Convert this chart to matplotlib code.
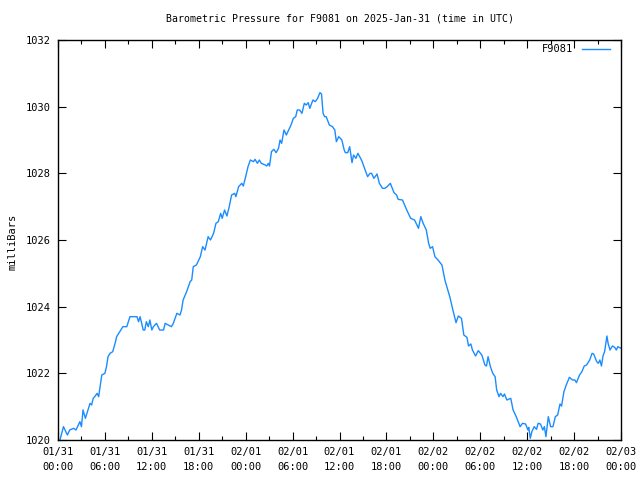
import matplotlib
matplotlib.use("Agg")
import matplotlib.pyplot as plt
from matplotlib.ticker import MultipleLocator

# hours since 2025-01-31 00:00 UTC, pressure in millibars
hours = [
    0.0, 0.25, 0.7, 0.9, 1.2, 1.5, 2.0, 2.3, 2.6, 2.8, 3.0, 3.2, 3.5, 3.9, 4.1, 4.3,
    4.5, 4.7, 5.0, 5.2, 5.5, 5.6, 6.0, 6.2, 6.4, 6.65, 7.0, 7.3, 7.5, 7.9, 8.3, 8.8,
    9.2, 10.1, 10.3, 10.5, 10.7, 10.9, 11.1, 11.3, 11.55, 11.75, 12.0, 12.2, 12.6, 12.8,
    13.0, 13.5, 13.7, 14.1, 14.5, 14.75, 15.2, 15.6, 15.8, 16.0, 16.45, 16.9,
    17.1, 17.3, 17.7, 18.2, 18.5, 18.8, 19.2, 19.5, 19.9, 20.2, 20.5, 20.8, 21.0,
    21.3, 21.6, 21.9, 22.2, 22.6, 22.75, 23.1, 23.5, 23.7, 24.0, 24.3, 24.6, 25.0,
    25.2, 25.5, 25.75, 26.0, 26.5, 26.7, 26.9, 27.05, 27.3, 27.6, 27.9, 28.2, 28.4,
    28.6, 28.9, 29.2, 29.5, 29.8, 30.1, 30.4, 30.6, 30.9, 31.2, 31.5, 31.75, 32.0,
    32.2, 32.6, 32.9, 33.2, 33.5, 33.7, 33.9, 34.1, 34.3, 34.7, 35.1, 35.4, 35.6,
    35.9, 36.3, 36.6, 36.75, 37.05, 37.3, 37.6, 37.8, 38.1, 38.35, 38.7, 38.9, 39.2,
    39.6, 39.9, 40.1, 40.4, 40.8, 41.1, 41.5, 41.8, 42.1, 42.5, 42.97, 43.3, 43.5,
    44.05, 44.6, 45.1, 45.6, 46.1, 46.4, 46.7, 47.1, 47.4, 47.6, 47.9, 48.2, 48.6,
    49.1, 49.5, 50.1, 50.5, 50.9, 51.2, 51.6, 51.9, 52.3, 52.5, 52.8, 53.0, 53.4,
    53.75, 54.2, 54.6, 54.8, 55.0, 55.3, 55.6, 55.9, 56.1, 56.4, 56.6, 56.9, 57.1,
    57.4, 57.9, 58.2, 58.6, 59.1, 59.4, 59.8, 60.1, 60.2, 60.4, 60.6, 60.9, 61.2,
    61.4, 61.7, 62.0, 62.2, 62.4, 62.7, 63.0, 63.3, 63.6, 63.9, 64.2, 64.4, 64.7,
    65.0, 65.4, 65.8, 66.1, 66.3, 66.7, 67.0, 67.3, 67.6, 68.0, 68.3, 68.5, 68.9,
    69.1, 69.3, 69.5, 69.7, 69.9, 70.2, 70.35, 70.6, 70.9, 71.2, 71.4, 71.6, 72.0,
]
pressure = [
    1020.0, 1020.0, 1020.4, 1020.3, 1020.15, 1020.3, 1020.35, 1020.3, 1020.45, 1020.55,
    1020.4, 1020.9, 1020.65, 1020.95, 1021.1, 1021.05, 1021.25, 1021.3, 1021.4, 1021.3,
    1021.8, 1021.95, 1022.0, 1022.2, 1022.5, 1022.6, 1022.65, 1022.9, 1023.1, 1023.25,
    1023.4, 1023.4, 1023.7, 1023.7, 1023.55, 1023.7, 1023.5, 1023.3, 1023.3, 1023.55,
    1023.4, 1023.6, 1023.3, 1023.4, 1023.5, 1023.4, 1023.3, 1023.3, 1023.5, 1023.45,
    1023.4, 1023.5, 1023.8, 1023.75, 1023.9, 1024.2, 1024.45, 1024.75,
    1024.8, 1025.2, 1025.25, 1025.5, 1025.8, 1025.7, 1026.1, 1026.0, 1026.2, 1026.5,
    1026.55, 1026.8, 1026.65, 1026.9, 1026.72, 1027.0, 1027.35, 1027.4, 1027.3,
    1027.6, 1027.7, 1027.62, 1027.9, 1028.2, 1028.4, 1028.35, 1028.42, 1028.3,
    1028.4, 1028.3, 1028.25, 1028.22, 1028.3, 1028.22, 1028.65, 1028.72, 1028.62,
    1028.75, 1029.0, 1028.9, 1029.3, 1029.15, 1029.3, 1029.45, 1029.65, 1029.7,
    1029.9, 1029.9, 1029.8, 1030.1, 1030.05, 1030.12, 1029.95, 1030.2, 1030.15,
    1030.25, 1030.42, 1030.38, 1029.8, 1029.7, 1029.7, 1029.45, 1029.4, 1029.3,
    1028.95, 1029.1, 1029.0, 1028.7, 1028.62, 1028.62, 1028.8, 1028.32, 1028.55,
    1028.45, 1028.6, 1028.45, 1028.35, 1028.15, 1027.9, 1028.0, 1028.0, 1027.85,
    1027.98, 1027.7, 1027.55, 1027.55, 1027.6, 1027.7, 1027.42, 1027.35, 1027.22,
    1027.2, 1026.9, 1026.65, 1026.6, 1026.35, 1026.7, 1026.5, 1026.3, 1025.9,
    1025.75, 1025.8, 1025.5, 1025.4, 1025.25, 1024.78, 1024.3, 1023.9, 1023.52,
    1023.72, 1023.65, 1023.15, 1023.08, 1022.82, 1022.88, 1022.7, 1022.52, 1022.68,
    1022.55, 1022.25, 1022.22, 1022.5, 1022.2, 1022.0, 1021.9, 1021.5, 1021.3,
    1021.4, 1021.3, 1021.38, 1021.2, 1021.25, 1020.9, 1020.7, 1020.4, 1020.5,
    1020.48, 1020.3, 1020.38, 1020.05, 1020.25, 1020.4, 1020.32, 1020.5, 1020.48,
    1020.3, 1020.4, 1020.1, 1020.7, 1020.4, 1020.4, 1020.7, 1020.75, 1021.08,
    1021.02, 1021.45, 1021.65, 1021.88, 1021.8, 1021.8, 1021.72, 1021.95, 1022.05,
    1022.22, 1022.25, 1022.4, 1022.6, 1022.58, 1022.35, 1022.3, 1022.4, 1022.22,
    1022.52, 1022.65, 1023.12, 1022.9, 1022.7, 1022.82, 1022.78, 1022.7, 1022.8,
    1022.75,
]

tick_hours = list(range(0, 73, 6))
tick_labels = [
    "01/31\n00:00", "01/31\n06:00", "01/31\n12:00", "01/31\n18:00",
    "02/01\n00:00", "02/01\n06:00", "02/01\n12:00", "02/01\n18:00",
    "02/02\n00:00", "02/02\n06:00", "02/02\n12:00", "02/02\n18:00",
    "02/03\n00:00",
]

plt.rcParams.update({
    "font.family": "DejaVu Sans Mono",
    "font.size": 7.5,
})

fig = plt.figure(figsize=(6.4, 4.8), dpi=100)
ax = fig.add_axes([58 / 640, 1 - 440 / 480, 563 / 640, 400 / 480])

ax.plot(hours, pressure, color="#1a8cff", lw=1.0, label="F9081")

ax.set_xlim(0, 72)
ax.set_ylim(1020, 1032)
ax.set_xticks(tick_hours)
ax.set_xticklabels(tick_labels, linespacing=1.6)
ax.xaxis.set_minor_locator(MultipleLocator(3))
ax.yaxis.set_major_locator(MultipleLocator(2))

ax.tick_params(which="both", direction="in", top=True, right=True, width=0.8, pad=5)
ax.tick_params(which="major", length=6)
ax.tick_params(which="minor", length=3)
for s in ax.spines.values():
    s.set_linewidth(1.0)

ax.set_ylabel("milliBars")
ax.yaxis.set_label_coords(-40 / 563, 0.495)
# gnuplot centres the title over the plot area, not the canvas
ax.text(0.5, 1 + 21 / 400, "Barometric Pressure for F9081 on 2025-Jan-31 (time in UTC)",
        transform=ax.transAxes, ha="center", va="center", fontsize=7.1)

ax.legend(loc="upper right", frameon=False, markerfirst=False,
          handlelength=2.7, borderaxespad=0.5, handletextpad=0.8,
          bbox_to_anchor=(1 - 2 / 563, 1 + 5 / 400))

fig.savefig("out.png", dpi=100, facecolor="white")
